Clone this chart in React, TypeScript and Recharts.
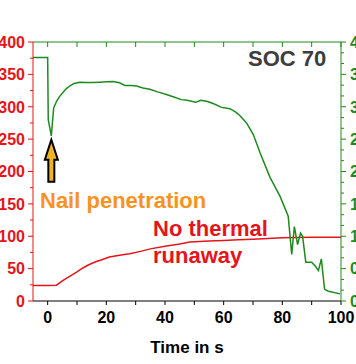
import React from "react";
import { LineChart, Line, XAxis, YAxis, ReferenceDot } from "recharts";

// time (s) and cell temperature (°C)
const tempTime = [-5, 0, 3, 5, 7.5, 10, 12, 14, 16.6, 18, 21, 25, 28, 32, 35, 40, 45, 48.5, 55, 60, 65, 70, 75, 80, 85, 90, 100];
const tempValues = [24, 24, 24.5, 31, 38, 45, 51, 56, 61, 63, 68, 71, 73, 77, 80.5, 84.5, 88, 91, 92.5, 93.5, 94.5, 95.5, 96.5, 97.5, 98, 98.5, 98.5];

// time (s) and cell voltage (V)
const voltTime = [
  -5, 0, 0.2, 1.25, 2.05, 3, 4.1, 5.2, 6.4, 7.5, 9, 10.9, 13, 15.5, 18, 20, 22.3, 24.5, 26.3, 28.5, 30.3,
  32.5, 34.8, 37.5, 40.5, 43, 45.6, 47.5, 50.5, 52.2, 54.5, 56.4, 59.3, 62.1, 64, 65.5, 67.8, 70.1, 72.4,
  75.8, 79.2, 82, 83.2, 84.1, 85.2, 86.2, 86.9, 88, 90, 91.2, 92.3, 93.3, 94.4, 95.7, 99.7,
];
const voltValues = [
  3.76, 3.76, 2.8, 2.55, 2.98, 3.08, 3.16, 3.22, 3.28, 3.32, 3.36, 3.38, 3.375, 3.375, 3.38, 3.385, 3.39, 3.37,
  3.33, 3.33, 3.32, 3.29, 3.27, 3.23, 3.19, 3.15, 3.11, 3.1, 3.07, 3.1, 3.08, 3.05, 2.99, 2.97, 2.92, 2.865,
  2.75, 2.57, 2.29, 1.91, 1.62, 1.31, 0.72, 1.15, 0.87, 1.05, 1.0, 0.6, 0.6, 0.54, 0.47, 0.65, 0.18, 0.15, 0.11,
];

const xTicks = [0, 10, 20, 30, 40, 50, 60, 70, 80, 90, 100];
const tempTicks = [0, 25, 50, 75, 100, 125, 150, 175, 200, 225, 250, 275, 300, 325, 350, 375, 400];
const voltTicks = Array.from({ length: 25 }, (_, i) => Math.round((i / 6) * 1000) / 1000);

const tempData = tempTime.map((t, i) => ({ t, c: tempValues[i] }));
const voltData = voltTime.map((t, i) => ({ t, v: voltValues[i] }));

const W = 356;
const H = 364;
const PL = 33;
const PR = 341;
const PT = 42;
const PB = 301;

const RED = "#e5141b";
const GREEN = "#1e8a1e";
const FONT = "'Liberation Sans', Arial, sans-serif";

const BottomTick = (props: any) => {
  const { x, payload } = props;
  const v = payload.value;
  return (
    <g>
      <line x1={x} x2={x} y1={PB} y2={PB + 4} stroke="#000" strokeWidth={1} />
      {v % 20 === 0 && (
        <text x={x} y={PB + 22} textAnchor="middle" fontFamily={FONT} fontWeight="bold" fontSize={16} fill="#000">
          {v}
        </text>
      )}
    </g>
  );
};

const TopTick = (props: any) => {
  const { x } = props;
  return <line x1={x} x2={x} y1={PT} y2={PT + 5} stroke={GREEN} strokeWidth={1} />;
};

const LeftTick = (props: any) => {
  const { y, payload } = props;
  const major = payload.value % 50 === 0;
  return (
    <g>
      <line x1={PL - (major ? 5 : 3)} x2={PL} y1={y} y2={y} stroke={RED} strokeWidth={1} />
      {major && (
        <text x={PL - 8} y={y} dy="0.36em" textAnchor="end" fontFamily={FONT} fontWeight="bold" fontSize={16} fill={RED}>
          {payload.value}
        </text>
      )}
    </g>
  );
};

const RightTick = (props: any) => {
  const { y, payload } = props;
  const v = payload.value;
  const major = Math.abs(v * 2 - Math.round(v * 2)) < 1e-6;
  return (
    <g>
      <line x1={PR} x2={PR + (major ? 5 : 3)} y1={y} y2={y} stroke={GREEN} strokeWidth={1} />
      {major && (
        <text x={PR + 9} y={y} dy="0.36em" textAnchor="start" fontFamily={FONT} fontWeight="bold" fontSize={16} fill={GREEN}>
          {v.toFixed(1)}
        </text>
      )}
    </g>
  );
};

const Arrow = (props: any) => {
  const { cx, cy } = props;
  const pts = [
    [cx, cy],
    [cx + 6.5, cy + 20],
    [cx + 3, cy + 20],
    [cx + 3, cy + 42],
    [cx - 3, cy + 42],
    [cx - 3, cy + 20],
    [cx - 6.5, cy + 20],
  ]
    .map((p) => p.join(","))
    .join(" ");
  return <polygon points={pts} fill="#f0b323" stroke="#000" strokeWidth={2} strokeLinejoin="miter" />;
};

export default function App() {
  return (
    <div style={{ position: "absolute", left: 0, top: 0, width: W, height: H, background: "#fff" }}>
      <LineChart width={W} height={H} margin={{ top: PT - 10, right: 0, bottom: H - PB - 30, left: 0 }}>
        <XAxis
          xAxisId="b"
          type="number"
          dataKey="t"
          domain={[-5, 100]}
          ticks={xTicks}
          allowDataOverflow
          height={30}
          stroke="#000"
          tickLine={false}
          tick={<BottomTick />}
        />
        <XAxis
          xAxisId="top"
          orientation="top"
          type="number"
          dataKey="t"
          domain={[-5, 100]}
          ticks={xTicks}
          allowDataOverflow
          height={10}
          stroke={GREEN}
          tickLine={false}
          tick={<TopTick />}
        />
        <YAxis
          yAxisId="T"
          orientation="left"
          type="number"
          domain={[0, 400]}
          ticks={tempTicks}
          width={PL}
          stroke={RED}
          tickLine={false}
          tick={<LeftTick />}
          interval={0}
        />
        <YAxis
          yAxisId="V"
          orientation="right"
          type="number"
          domain={[0, 4]}
          ticks={voltTicks}
          width={W - PR}
          stroke={GREEN}
          tickLine={false}
          tick={<RightTick />}
          interval={0}
        />
        <Line
          xAxisId="b"
          yAxisId="T"
          data={tempData}
          dataKey="c"
          type="linear"
          stroke={RED}
          strokeWidth={1.5}
          dot={false}
          isAnimationActive={false}
        />
        <Line
          xAxisId="b"
          yAxisId="V"
          data={voltData}
          dataKey="v"
          type="linear"
          stroke={GREEN}
          strokeWidth={1.5}
          dot={false}
          isAnimationActive={false}
        />
        <ReferenceDot xAxisId="b" yAxisId="V" x={1.25} y={2.49} r={0} shape={<Arrow />} />
      </LineChart>
      <svg width={W} height={H} style={{ position: "absolute", left: 0, top: 0, pointerEvents: "none" }}>
        <g fontFamily={FONT} fontWeight="bold">
          <text x={248} y={66} fontSize={22} fill="#3d3d3d">SOC 70</text>
          <text x={40} y={208} fontSize={22} fill="#f7931e">Nail penetration</text>
          <text x={153} y={236} fontSize={22} fill={RED}>No thermal</text>
          <text x={153} y={263} fontSize={22} fill={RED}>runaway</text>
          <text x={187} y={353} fontSize={17} fill="#000" textAnchor="middle">Time in s</text>
        </g>
      </svg>
    </div>
  );
}
